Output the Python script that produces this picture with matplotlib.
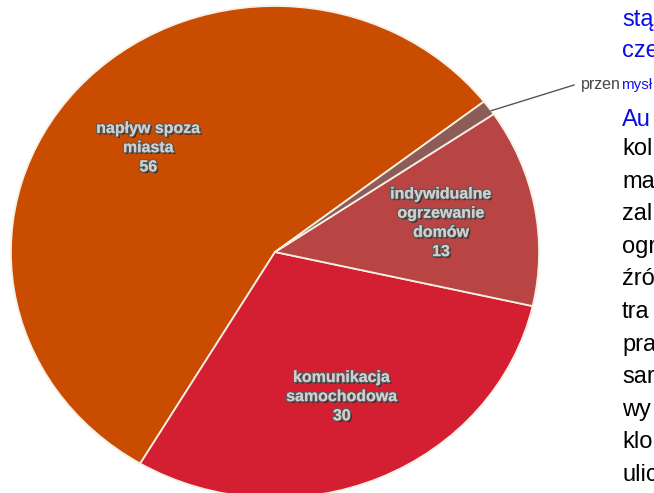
import numpy as np
import matplotlib
matplotlib.use('Agg')
import matplotlib.pyplot as plt
import matplotlib.patheffects as pe

# udział źródeł zanieczyszczeń (%)
labels = ['napływ spoza\nmiasta', 'komunikacja\nsamochodowa', 'indywidualne\nogrzewanie\ndomów', 'przemysł']
values = [56, 30, 13, 1]
colors = ['#c94c00', '#d41f33', '#b94444', '#8c5c58']

# tekst strony obok wykresu (ucięty)
blue_lines = ['stą', 'cze']
body_lines = ['kol', 'ma', 'zal', 'ogr', 'źró', 'tra', 'pra', 'sar', 'wy', 'klo', 'ulic']

W, H = 654, 493
sx = 263 / 245  # obraz był rozciągnięty w poziomie

fig = plt.figure(figsize=(W / 100, H / 100), dpi=100)
ax = fig.add_axes([0, 0, 1, 1])
ax.axis('off')


def px(x, y):
    return x / sx, H - y


cx, cy = px(275, 252)
R = 246
wedges, _ = ax.pie(values, colors=colors, startangle=37.7, counterclock=True,
                   center=(cx, cy), radius=R,
                   wedgeprops=dict(edgecolor='#f6efe4', linewidth=1.3))
ax.set_aspect('auto')
ax.set_xlim(0, W / sx)
ax.set_ylim(0, H)

shadow = [pe.withSimplePatchShadow(offset=(1.2, -1.2), shadow_rgbFace='#1a1a1a', alpha=0.85),
          pe.withStroke(linewidth=1.8, foreground='#5a5a5a'), pe.Normal()]
for w, lab, v in zip(wedges, labels, values):
    ang = np.deg2rad((w.theta1 + w.theta2) / 2)
    if v < 5:
        # małe wycinki: etykieta na zewnątrz z linią
        x0, y0 = cx + R * np.cos(ang), cy + R * np.sin(ang)
        x1, y1 = px(574, 85)
        ax.plot([x0 + 2, x1], [y0 - 3, y1], color='#555555', lw=1)
        ax.text(x1 + 7 / sx, y1, 'przen', ha='left', va='center', fontsize=11.5,
                color='#444444', family='Liberation Sans')
        continue
    tx, ty = cx + 0.64 * R * np.cos(ang), cy + 0.64 * R * np.sin(ang)
    ax.text(tx, ty, lab + '\n' + str(v), ha='center', va='center', fontsize=11.5,
            fontweight='bold', color='#cfcfcf', linespacing=1.35,
            family='Liberation Sans', path_effects=shadow)

# tekst z prawej strony
x_txt = 622 / sx
ax.text(621 / sx, H - 85, 'mysł', ha='left', va='center', fontsize=11,
        color='#1a1ae0', family='Liberation Sans')
for i, s in enumerate(blue_lines):
    ax.text(x_txt, H - (26 + i * 31), s, ha='left', va='baseline', fontsize=17,
            color='#0b0be6', family='Liberation Sans')
ax.text(x_txt, H - 126, 'Au', ha='left', va='baseline', fontsize=17,
        color='#0b0be6', family='Liberation Sans')
for i, s in enumerate(body_lines):
    ax.text(x_txt, H - (155 + i * 32.6), s, ha='left', va='baseline', fontsize=17,
            color='black', family='Liberation Sans')

fig.savefig('out.png', dpi=100)
